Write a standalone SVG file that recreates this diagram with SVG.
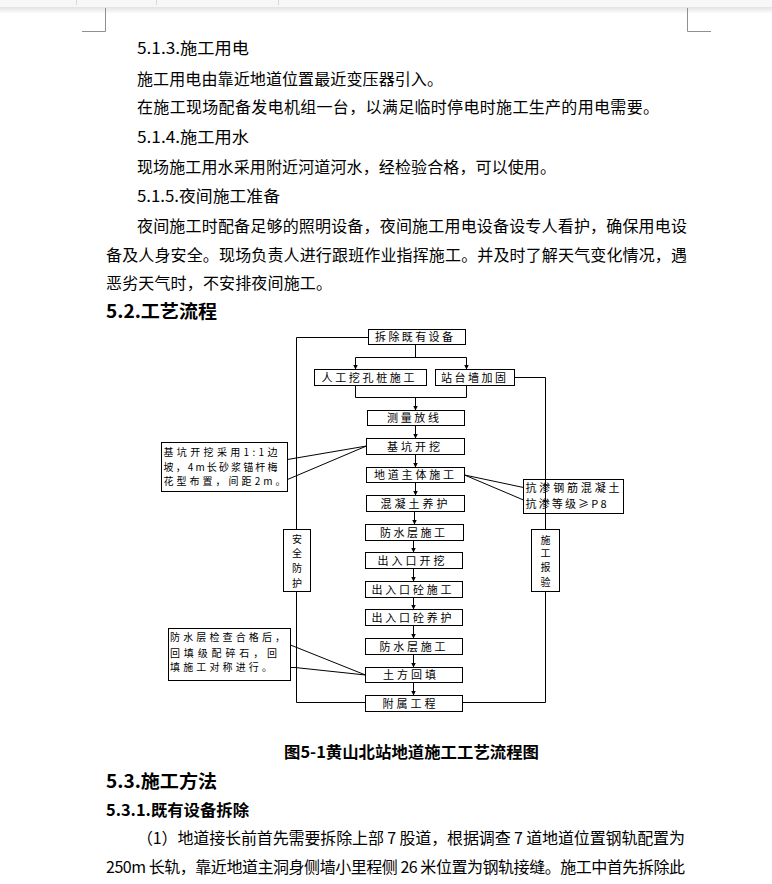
<svg xmlns="http://www.w3.org/2000/svg" width="772" height="884" viewBox="0 0 772 884">
<defs>
<linearGradient id="sh" x1="0" y1="0" x2="0" y2="1"><stop offset="0" stop-color="#e2e2e2"/><stop offset="1" stop-color="#ffffff"/></linearGradient>
<marker id="ah" viewBox="0 0 6 6" refX="6" refY="3" markerWidth="5" markerHeight="5" markerUnits="userSpaceOnUse" orient="auto"><path d="M0,0 L6,3 L0,6 z" fill="#000"/></marker>
<style>
.b{font-family:"Noto Sans CJK SC","Liberation Sans",sans-serif;font-size:16px;fill:#000}
.h{font-family:"Noto Sans CJK SC","Liberation Sans",sans-serif;font-weight:bold;fill:#000}
.n rect{fill:#fff;stroke:#000;stroke-width:1}
.t{font-family:"Noto Sans CJK SC","Liberation Sans",sans-serif;font-size:11px;fill:#000}
.s{font-family:"Noto Sans CJK SC","Liberation Sans",sans-serif;font-size:10px;fill:#000}
.c line,.c polyline{fill:none;stroke:#000;stroke-width:1}
.a{marker-end:url(#ah)}
</style>
</defs>
<rect width="772" height="884" fill="#fff"/>
<rect x="0" y="0" width="772" height="7" fill="#f7f7f7"/>
<rect x="0" y="7" width="772" height="7" fill="url(#sh)"/>
<g stroke="#d8d8d8" stroke-width="1"><line x1="76.5" y1="0" x2="76.5" y2="5"/><line x1="156.5" y1="0" x2="156.5" y2="5"/><line x1="278.5" y1="0" x2="278.5" y2="5"/></g>
<g stroke="#909090" stroke-width="1" fill="none"><polyline points="105.5,8 105.5,31.5 82,31.5"/><polyline points="687.5,8 687.5,31.5 711,31.5"/></g>

<g id="body-text">
<text class="b" x="137" y="54" textLength="112" lengthAdjust="spacingAndGlyphs">5.1.3.施工用电</text>
<text class="b" x="137" y="85" textLength="306" lengthAdjust="spacing">施工用电由靠近地道位置最近变压器引入。</text>
<text class="b" x="137" y="113" textLength="522" lengthAdjust="spacing">在施工现场配备发电机组一台，以满足临时停电时施工生产的用电需要。</text>
<text class="b" x="137" y="143" textLength="112" lengthAdjust="spacingAndGlyphs">5.1.4.施工用水</text>
<text class="b" x="137" y="173" textLength="419" lengthAdjust="spacing">现场施工用水采用附近河道河水，经检验合格，可以使用。</text>
<text class="b" x="137" y="202" textLength="143" lengthAdjust="spacingAndGlyphs">5.1.5.夜间施工准备</text>
<text class="b" x="137" y="232" textLength="550" lengthAdjust="spacing">夜间施工时配备足够的照明设备，夜间施工用电设备设专人看护，确保用电设</text>
<text class="b" x="106" y="261" textLength="581" lengthAdjust="spacing">备及人身安全。现场负责人进行跟班作业指挥施工。并及时了解天气变化情况，遇</text>
<text class="b" x="106" y="289" textLength="226" lengthAdjust="spacing">恶劣天气时，不安排夜间施工。</text>
<text class="h" x="106" y="318" font-size="18" textLength="111" lengthAdjust="spacingAndGlyphs">5.2.工艺流程</text>
<text class="h" x="284" y="758" font-size="16" textLength="255" lengthAdjust="spacingAndGlyphs">图5-1黄山北站地道施工工艺流程图</text>
<text class="h" x="106" y="788" font-size="18" textLength="111" lengthAdjust="spacingAndGlyphs">5.3.施工方法</text>
<text class="h" x="106" y="816" font-size="16" textLength="143" lengthAdjust="spacingAndGlyphs">5.3.1.既有设备拆除</text>
<text class="b" x="137" y="844" textLength="548" lengthAdjust="spacing">（1）地道接长前首先需要拆除上部 7 股道，根据调查 7 道地道位置钢轨配置为</text>
<text class="b" x="106" y="873" textLength="579" lengthAdjust="spacing">250m 长轨，靠近地道主洞身侧墙小里程侧 26 米位置为钢轨接缝。施工中首先拆除此</text>
</g>

<g id="connectors" class="c">
<polyline points="368.5,337.5 296.5,337.5 296.5,529.5"/>
<polyline points="296.5,591.5 296.5,702.5 365.5,702.5"/>
<polyline points="514.5,377.5 545.5,377.5 545.5,529.5"/>
<polyline points="545.5,591.5 545.5,702.5 462.5,702.5"/>
<line x1="415.5" y1="344.5" x2="415.5" y2="357.5"/>
<line x1="355.5" y1="357.5" x2="466.5" y2="357.5"/>
<line class="a" x1="355.5" y1="357.5" x2="355.5" y2="369.5"/>
<line class="a" x1="466.5" y1="357.5" x2="466.5" y2="369.5"/>
<polyline points="355.5,385.5 355.5,397.5 466.5,397.5 466.5,385.5"/>
<line class="a" x1="415.5" y1="397.5" x2="415.5" y2="410.5"/>
<line class="a" x1="415.5" y1="425.5" x2="415.5" y2="438.5"/>
<line class="a" x1="415.5" y1="454.5" x2="415.5" y2="467.5"/>
<line class="a" x1="415.5" y1="482.5" x2="415.5" y2="495.5"/>
<line class="a" x1="414.5" y1="511.5" x2="414.5" y2="524.5"/>
<line class="a" x1="413.5" y1="540.5" x2="413.5" y2="552.5"/>
<line class="a" x1="413.5" y1="568.5" x2="413.5" y2="581.5"/>
<line class="a" x1="413.5" y1="597.5" x2="413.5" y2="609.5"/>
<line class="a" x1="413.5" y1="625.5" x2="413.5" y2="638.5"/>
<line class="a" x1="413.5" y1="654.5" x2="413.5" y2="667.5"/>
<line class="a" x1="413.5" y1="682.5" x2="413.5" y2="695.5"/>
<line x1="287.5" y1="459.5" x2="366.5" y2="446"/>
<line x1="287.5" y1="479.5" x2="366.5" y2="446"/>
<line x1="464.5" y1="475" x2="523.5" y2="487.5"/>
<line x1="464.5" y1="475" x2="523.5" y2="500"/>
<line x1="290.5" y1="645" x2="365.5" y2="675"/>
<polyline points="290.5,667.5 295,667.5 365.5,675"/>
</g>

<g id="n1" class="n"><rect x="368.5" y="329.5" width="97" height="15"/><text class="t" x="375" y="341" textLength="78" lengthAdjust="spacing">拆除既有设备</text></g>
<g id="n2a" class="n"><rect x="314.5" y="369.5" width="112" height="16"/><text class="t" x="321.5" y="381.5" textLength="93" lengthAdjust="spacing">人工挖孔桩施工</text></g>
<g id="n2b" class="n"><rect x="435.5" y="369.5" width="79" height="16"/><text class="t" x="441" y="381.5" textLength="65" lengthAdjust="spacing">站台墙加固</text></g>
<g id="n3" class="n"><rect x="367.5" y="410.5" width="97" height="15"/><text class="t" x="387" y="422" textLength="52" lengthAdjust="spacing">测量放线</text></g>
<g id="n4" class="n"><rect x="366.5" y="438.5" width="98" height="16"/><text class="t" x="387" y="450.5" textLength="53" lengthAdjust="spacing">基坑开挖</text></g>
<g id="n5" class="n"><rect x="366.5" y="467.5" width="98" height="15"/><text class="t" x="374" y="479" textLength="80" lengthAdjust="spacing">地道主体施工</text></g>
<g id="n6" class="n"><rect x="366.5" y="495.5" width="98" height="16"/><text class="t" x="380.5" y="507.5" textLength="67" lengthAdjust="spacing">混凝土养护</text></g>
<g id="n7" class="n"><rect x="365.5" y="524.5" width="98" height="16"/><text class="t" x="380" y="536.5" textLength="65" lengthAdjust="spacing">防水层施工</text></g>
<g id="n8" class="n"><rect x="365.5" y="552.5" width="97" height="16"/><text class="t" x="377.5" y="564.5" textLength="67" lengthAdjust="spacing">出入口开挖</text></g>
<g id="n9" class="n"><rect x="365.5" y="581.5" width="97" height="16"/><text class="t" x="371.5" y="593.5" textLength="80" lengthAdjust="spacing">出入口砼施工</text></g>
<g id="n10" class="n"><rect x="365.5" y="609.5" width="97" height="16"/><text class="t" x="371.5" y="621.5" textLength="80" lengthAdjust="spacing">出入口砼养护</text></g>
<g id="n11" class="n"><rect x="365.5" y="638.5" width="97" height="16"/><text class="t" x="379.5" y="650.5" textLength="66" lengthAdjust="spacing">防水层施工</text></g>
<g id="n12" class="n"><rect x="365.5" y="667.5" width="97" height="15"/><text class="t" x="383" y="679" textLength="53" lengthAdjust="spacing">土方回填</text></g>
<g id="n13" class="n"><rect x="365.5" y="695.5" width="97" height="16"/><text class="t" x="382.5" y="707.5" textLength="53" lengthAdjust="spacing">附属工程</text></g>
<g id="safety" class="n"><rect x="283.5" y="529.5" width="27" height="62"/>
<text class="s" x="297" y="543" text-anchor="middle">安</text><text class="s" x="297" y="557" text-anchor="middle">全</text><text class="s" x="297" y="572" text-anchor="middle">防</text><text class="s" x="297" y="586.5" text-anchor="middle">护</text></g>
<g id="inspect" class="n"><rect x="531.5" y="529.5" width="28" height="62"/>
<text class="s" x="545.5" y="543.5" text-anchor="middle">施</text><text class="s" x="545.5" y="557" text-anchor="middle">工</text><text class="s" x="545.5" y="571" text-anchor="middle">报</text><text class="s" x="545.5" y="585.5" text-anchor="middle">验</text></g>
<g id="note1" class="n"><rect x="161.5" y="442.5" width="126" height="49"/>
<text class="s" x="163.5" y="455.5" textLength="114" lengthAdjust="spacing">基坑开挖采用1:1边</text>
<text class="s" x="163.5" y="470.5" textLength="114" lengthAdjust="spacing">坡，4m长砂浆锚杆梅</text>
<text class="s" x="163.5" y="484.5" textLength="122" lengthAdjust="spacing">花型布置，间距2m。</text></g>
<g id="note2" class="n"><rect x="168.5" y="628.5" width="122" height="52"/>
<text class="s" x="170" y="640.5" textLength="115" lengthAdjust="spacing">防水层检查合格后，</text>
<text class="s" x="170" y="656.5" textLength="107" lengthAdjust="spacing">回填级配碎石，回</text>
<text class="s" x="170" y="670.5" textLength="102" lengthAdjust="spacing">填施工对称进行。</text></g>
<g id="note3" class="n"><rect x="523.5" y="479.5" width="100" height="34"/>
<text class="t" x="525.5" y="492" textLength="94" lengthAdjust="spacing">抗渗钢筋混凝土</text>
<text class="t" x="525.5" y="507.5" textLength="81" lengthAdjust="spacing">抗渗等级≥P8</text></g>
<line x1="545.5" y1="479.5" x2="545.5" y2="513.5" stroke="#000" stroke-width="1"/>
</svg>
